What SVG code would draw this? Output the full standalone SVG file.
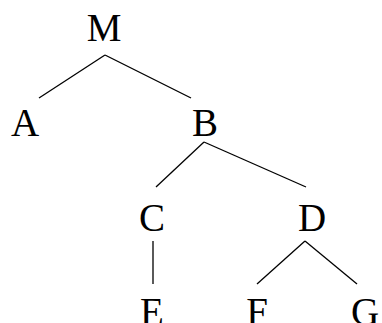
<svg xmlns="http://www.w3.org/2000/svg" width="382" height="323" viewBox="0 0 382 323">
  <style>
    .lbl { font-family: "Liberation Serif", "Times New Roman", serif; font-size: 39px; fill: #000; text-anchor: middle; }
    .edge { stroke: #000; stroke-width: 1.3; fill: none; stroke-linecap: butt; }
  </style>
  <rect width="382" height="323" fill="#fff"/>
  <g id="connectors">
    <line class="edge" x1="105" y1="55" x2="39" y2="98"/>
    <line class="edge" x1="105" y1="55" x2="191" y2="98"/>
    <line class="edge" x1="204" y1="142" x2="156" y2="187"/>
    <line class="edge" x1="204" y1="142" x2="306" y2="187"/>
    <line class="edge" x1="153" y1="241" x2="153" y2="284"/>
    <line class="edge" x1="305" y1="241" x2="257" y2="284"/>
    <line class="edge" x1="305" y1="241" x2="357" y2="284"/>
  </g>
  <g id="node-M"><text class="lbl" x="104" y="41">M</text></g>
  <g id="node-A"><text class="lbl" x="25" y="136">A</text></g>
  <g id="node-B"><text class="lbl" x="205" y="136">B</text></g>
  <g id="node-C"><text class="lbl" x="152" y="231">C</text></g>
  <g id="node-D"><text class="lbl" x="312" y="231">D</text></g>
  <g id="node-E"><text class="lbl" x="152" y="325">E</text></g>
  <g id="node-F"><text class="lbl" x="257" y="325">F</text></g>
  <g id="node-G"><text class="lbl" x="365" y="325">G</text></g>
</svg>
